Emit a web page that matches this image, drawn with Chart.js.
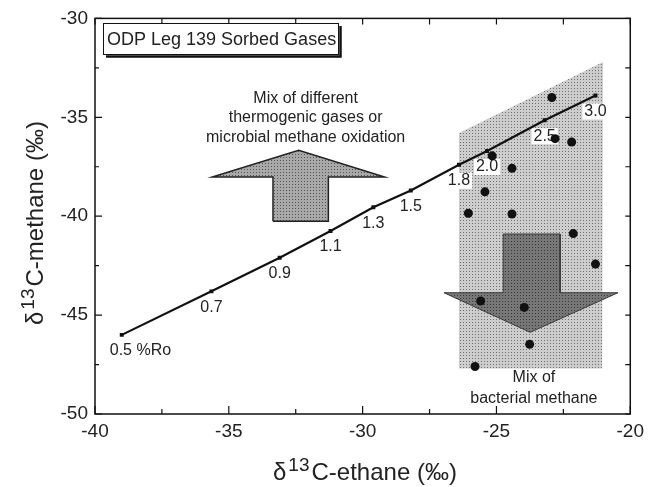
<!DOCTYPE html>
<html>
<head>
<meta charset="utf-8">
<script src="https://cdn.jsdelivr.net/npm/chart.js@4.4.0/dist/chart.umd.min.js"></script>
<style>
  html, body { margin: 0; padding: 0; background: #fff; }
  #wrap { width: 650px; height: 487px; }
</style>
</head>
<body>
<div id="wrap"><canvas id="c" width="650" height="487"></canvas></div>
<script>
// ===== data (δ13C ethane / methane, ‰) =====
// thermal maturity line
const roLabels  = ['0.5 %Ro', '0.7', '0.9', '1.1', '1.3', '1.5', '1.8', '2.0', '2.5', '3.0']
const roEthane  = [-39.0, -35.65, -33.1, -31.2, -29.6, -28.2, -26.4, -25.35, -23.2, -21.3]
const roMethane = [-46.0, -43.8, -42.1, -40.75, -39.55, -38.7, -37.4, -36.7, -35.15, -33.9]

// sorbed gas samples
const gasEthane  = [-22.93, -22.81, -22.19, -25.16, -24.42, -25.43, -26.05, -24.42, -22.13, -21.3, -25.59, -23.96, -23.76, -25.8]
const gasMethane = [-34.0, -36.08, -36.25, -36.95, -37.58, -38.77, -39.85, -39.89, -40.88, -42.42, -44.29, -44.61, -46.48, -47.6]

// shaded field of bacterial mixing
const shadeEthane  = [-26.4, -21.02, -21.05, -26.4, -26.4]
const shadeMethane = [-35.8, -32.2, -47.7, -47.7, -35.8]

// arrows
const downEthane  = [-24.75, -22.62, -22.62, -20.46, -23.74, -26.96, -24.75, -24.75]
const downMethane = [-40.9, -40.9, -43.87, -43.87, -45.87, -43.87, -43.87, -40.9]
const upEthane    = [-33.35, -33.35, -35.62, -32.39, -29.18, -31.28, -31.28, -33.35]
const upMethane   = [-40.26, -38.02, -38.02, -36.67, -38.02, -38.02, -40.26, -40.26]

// axis ticks
const xTicks = [-40, -35, -30, -25, -20]
const yTicks = [-50, -45, -40, -35, -30]

const FONT = "'Liberation Sans', Arial, Helvetica, sans-serif"
const toXY = (xs, ys) => xs.map((v, i) => ({ x: v, y: ys[i] }))

const ctx0 = document.getElementById('c').getContext('2d')
// halftone-ish fill: light cell with one dark dot
function dotPattern(light, dark) {
  const c = document.createElement('canvas')
  c.width = 3; c.height = 3
  const g = c.getContext('2d')
  g.fillStyle = light; g.fillRect(0, 0, 3, 3)
  g.fillStyle = dark; g.fillRect(1, 1, 1, 1)
  return ctx0.createPattern(c, 'repeat')
}

// frame + inward ticks on all four sides
const framePlugin = {
  id: 'frame',
  afterDatasetsDraw(chart) {
    const { ctx, chartArea: a, scales: { x, y } } = chart
    ctx.save()
    ctx.strokeStyle = '#111'
    ctx.lineWidth = 1.5
    ctx.strokeRect(a.left, a.top, a.right - a.left, a.bottom - a.top)
    ctx.lineWidth = 1.2
    ctx.beginPath()
    for (let v = x.min; v <= x.max; v += 2.5) {
      const px = x.getPixelForValue(v)
      const major = v % 5 === 0
      ctx.moveTo(px, a.bottom); ctx.lineTo(px, a.bottom - (major ? 8 : 5))
      ctx.moveTo(px, a.top); ctx.lineTo(px, a.top + 6)
    }
    for (let v = y.min; v <= y.max; v += 2.5) {
      const py = y.getPixelForValue(v)
      const major = v % 5 === 0
      ctx.moveTo(a.left, py); ctx.lineTo(a.left + (major ? 7 : 4), py)
      ctx.moveTo(a.right, py); ctx.lineTo(a.right - 5, py)
    }
    ctx.stroke()
    ctx.restore()
  }
}

// %Ro labels, drawn just above the shading
const roLabelPlugin = {
  id: 'roLabels',
  afterDatasetDraw(chart, args) {
    if (chart.data.datasets[args.index].label !== 'shade') return
    const { ctx, scales: { x, y } } = chart
    ctx.save()
    ctx.font = `16px ${FONT}`
    ctx.textBaseline = 'middle'
    roLabels.forEach((t, i) => {
      const px = x.getPixelForValue(roEthane[i])
      const py = y.getPixelForValue(roMethane[i]) + 16
      const w = ctx.measureText(t).width
      const left = i === 0 ? px - 12 : px - w / 2
      ctx.fillStyle = '#fff'
      ctx.fillRect(left - 2, py - 8, w + 4, 16)
      ctx.fillStyle = '#222'
      ctx.fillText(t, left, py)
    })
    ctx.restore()
  }
}

// axis titles, caption box and annotation text
const textPlugin = {
  id: 'texts',
  afterDraw(chart) {
    const { ctx, scales: { x, y } } = chart
    ctx.save()
    ctx.fillStyle = '#222'
    ctx.textBaseline = 'alphabetic'

    const title = (rest, x0, y0) => {
      ctx.font = `24px ${FONT}`
      ctx.fillText('δ', x0, y0)
      let cx = x0 + ctx.measureText('δ').width + 2
      ctx.font = `19px ${FONT}`
      ctx.fillText('13', cx, y0 - 9)
      cx += ctx.measureText('13').width + 2
      ctx.font = `24px ${FONT}`
      ctx.fillText(rest, cx, y0)
    }
    title('C-ethane (‰)', 273, 480)
    ctx.save()
    ctx.translate(43, 325)
    ctx.rotate(-Math.PI / 2)
    title('C-methane (‰)', 0, 0)
    ctx.restore()

    // caption box with drop shadow
    ctx.strokeStyle = '#111'
    ctx.lineWidth = 2.5
    ctx.beginPath()
    ctx.moveTo(106, 56.5); ctx.lineTo(340.5, 56.5); ctx.lineTo(340.5, 26)
    ctx.stroke()
    ctx.lineWidth = 1
    ctx.fillStyle = '#fff'
    ctx.fillRect(103.5, 23.5, 235, 31)
    ctx.strokeRect(103.5, 23.5, 235, 31)
    ctx.fillStyle = '#222'
    ctx.font = `18px ${FONT}`
    ctx.textBaseline = 'middle'
    ctx.fillText('ODP Leg 139 Sorbed Gases', 107, 40)

    // annotations
    ctx.font = `16px ${FONT}`
    ctx.textAlign = 'center'
    const ux = x.getPixelForValue(-32.13), uy = y.getPixelForValue(-34.03)
    ;['Mix of different', 'thermogenic gases or', 'microbial methane oxidation']
      .forEach((t, i) => ctx.fillText(t, ux, uy + i * 19.5))
    const bx = x.getPixelForValue(-23.6), by = y.getPixelForValue(-48.16)
    ;['Mix of', 'bacterial methane'].forEach((t, i) => ctx.fillText(t, bx, by + i * 21))
    ctx.restore()
  }
}

const shapeBase = { showLine: true, pointRadius: 0, tension: 0, fill: 'shape' }

new Chart(document.getElementById('c'), {
  type: 'scatter',
  data: {
    datasets: [
      {
        label: 'samples', order: 0,
        data: toXY(gasEthane, gasMethane),
        pointRadius: 4.5, pointBackgroundColor: '#111', pointBorderColor: '#111', pointBorderWidth: 0
      },
      {
        label: 'ro', order: 1, showLine: true,
        data: toXY(roEthane, roMethane),
        borderColor: '#111', borderWidth: 2.2, tension: 0,
        pointStyle: 'rect', pointRadius: 2.8, pointBackgroundColor: '#111', pointBorderWidth: 0
      },
      {
        ...shapeBase, label: 'down', order: 2,
        data: toXY(downEthane, downMethane),
        backgroundColor: dotPattern('#777777', '#3a3a3a'), borderColor: '#3a3a3a', borderWidth: 1
      },
      {
        ...shapeBase, label: 'up', order: 3,
        data: toXY(upEthane, upMethane),
        backgroundColor: dotPattern('#a8a8a8', '#555555'), borderColor: '#222', borderWidth: 1.5
      },
      {
        ...shapeBase, label: 'shade', order: 4,
        data: toXY(shadeEthane, shadeMethane),
        backgroundColor: dotPattern('#cdcdcd', '#707070'), borderColor: 'rgba(0,0,0,0)', borderWidth: 0
      }
    ]
  },
  options: {
    responsive: false,
    animation: false,
    events: [],
    layout: { padding: { top: 12, right: 16, left: 0, bottom: 0 } },
    plugins: { legend: { display: false }, tooltip: { enabled: false } },
    scales: {
      x: {
        type: 'linear', min: -40, max: -20,
        afterBuildTicks: s => { s.ticks = xTicks.map(v => ({ value: v })) },
        afterFit: s => { s.height = 73 },
        grid: { display: false, drawTicks: false },
        border: { display: false },
        ticks: { color: '#222', padding: 6, font: { family: FONT, size: 19 } }
      },
      y: {
        type: 'linear', min: -50, max: -30,
        afterBuildTicks: s => { s.ticks = yTicks.map(v => ({ value: v })) },
        afterFit: s => { s.width = 95 },
        grid: { display: false, drawTicks: false },
        border: { display: false },
        ticks: { color: '#222', padding: 7, font: { family: FONT, size: 19 } }
      }
    }
  },
  plugins: [framePlugin, roLabelPlugin, textPlugin]
})
</script>
</body>
</html>
